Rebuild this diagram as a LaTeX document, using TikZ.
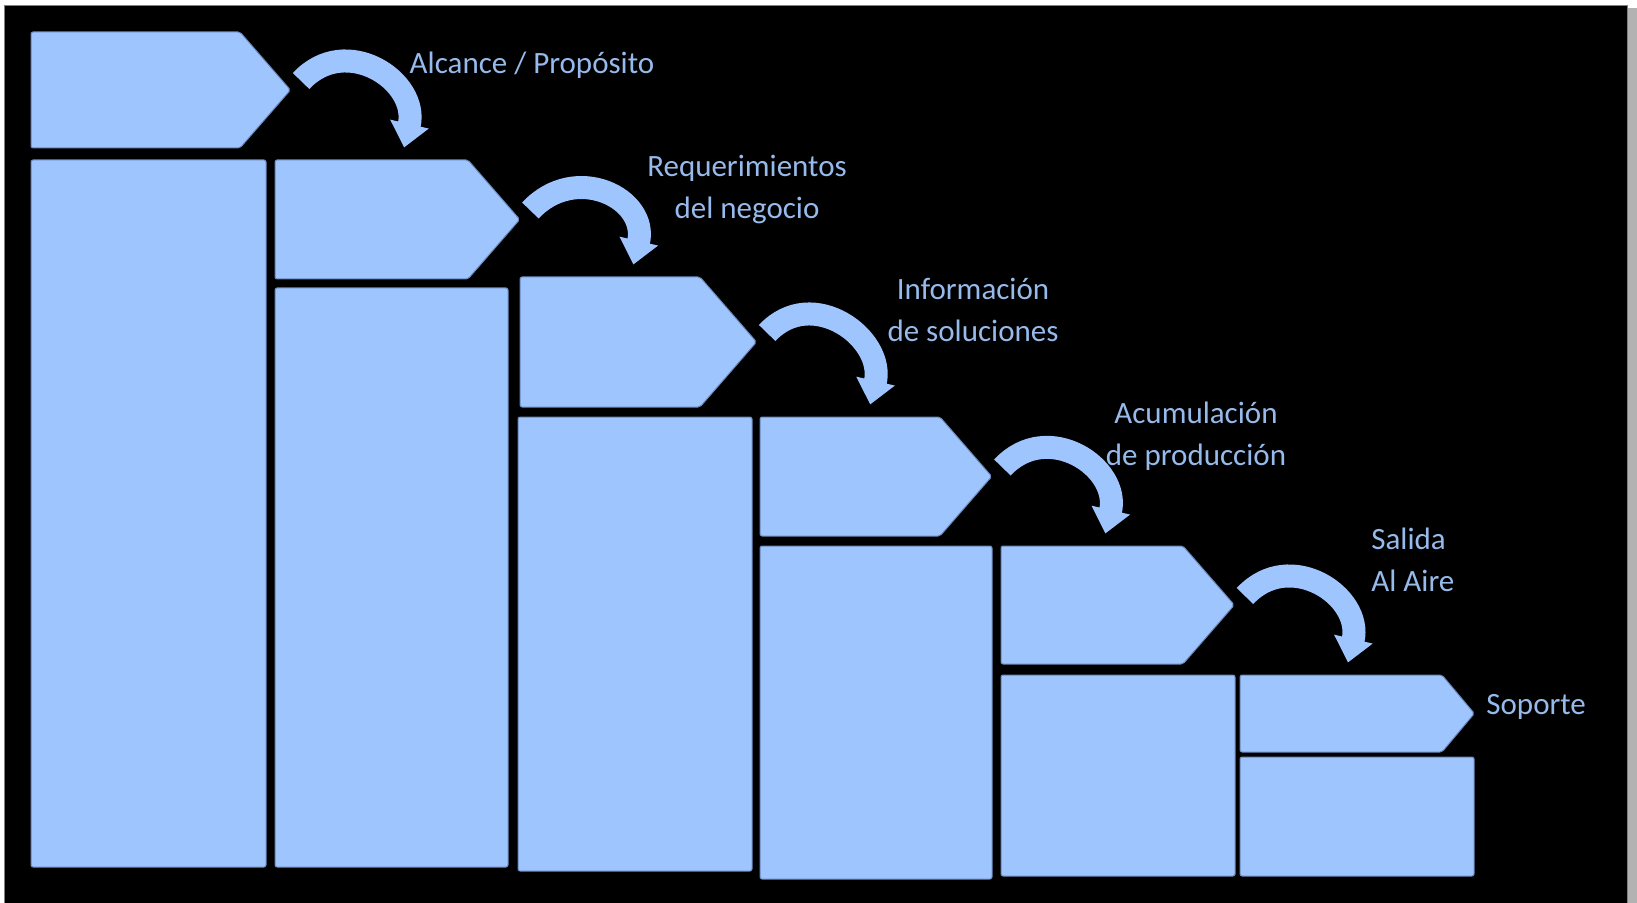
\documentclass[tikz,border=0pt]{standalone}
\usepackage{fontspec}
\setmainfont{Carlito}
\usetikzlibrary{positioning,fit,shapes.symbols,calc,arrows.meta}
\definecolor{stepblue}{RGB}{159,197,255}
\definecolor{stepedge}{RGB}{105,135,185}
\definecolor{labelblue}{RGB}{150,186,235}

\begin{document}
\begin{tikzpicture}[x=0.5pt,y=-0.5pt,
  block/.style={fill=stepblue,draw=stepedge,line width=0.5pt,inner sep=0pt,rounded corners=1pt},
  phase/.style={block,signal,signal to=east,signal pointer angle=98},
  turn/.style={stepblue,line width=11.5pt,-{Triangle[width=19pt,length=12pt]}},
  caption/.style={labelblue,font=\fontsize{15.5pt}{21pt}\selectfont,inner sep=0pt}
]
\useasboundingbox (0,0) rectangle (1637,903);
% the frame
\fill[white] (0,0) rectangle (1637,903);
\fill[black!30] (8,8) rectangle (1637,903);
\fill[black,draw=black!50] (4,5) rectangle (1627,903);

% the phases (body only, the point sticks out)
\node[phase,fit={(31,32) (240,148)}] (p1) {};
\node[phase,fit={(275,160) (468,279)}] (p2) {};
\node[phase,fit={(520,277) (700,407)}] (p3) {};
\node[phase,fit={(760,417) (940,536)}] (p4) {};
\node[phase,fit={(1001,546) (1183,664)}] (p5) {};
\node[phase,signal pointer angle=100,fit={(1240,675) (1442,752)}] (p6) {};

% the blocks below
\node[block,fit={(31,160) (266,867)}] (b1) {};
\node[block,fit={(275,288) (508,867)}] (b2) {};
\node[block,fit={(518,417) (752,871)}] (b3) {};
\node[block,fit={(760,546) (992,879)}] (b4) {};
\node[block,fit={(1001,675) (1235,876)}] (b5) {};
\node[block,fit={(1240,757) (1474,876)}] (b6) {};

% the labels
\node[caption,anchor=base] (alcance) at (532,74) {Alcance / Propósito};
\node[caption,align=center] (requer) at (747,190) {Requerimientos\\del negocio};
\node[caption,align=center] (info) at (973,310) {Información\\de soluciones};
\node[caption,align=center] (acum) at (1196,436) {Acumulación\\de producción};
\node[caption,align=left,anchor=west] (salida) at (1371,560) {Salida\\Al Aire};
\node[caption,anchor=base west] (soporte) at (1486,714) {Soporte};

% the turns
\draw[turn] ($(p1.east)+(10,-9)$) to[out=47,in=77,out distance=33pt,in distance=34pt] ($(p1.east |- p2.north)+(113,-12)$);
\draw[turn] ($(p2.east)+(10,-9)$) to[out=47,in=77,out distance=33pt,in distance=34pt] ($(p2.east |- p3.north)+(113,-12)$);
\draw[turn] ($(p3.east)+(10,-9)$) to[out=47,in=77,out distance=33pt,in distance=34pt] ($(p3.east |- p4.north)+(113,-12)$);
\draw[turn] ($(p4.east)+(10,-9)$) to[out=47,in=77,out distance=33pt,in distance=34pt] ($(p4.east |- p5.north)+(113,-12)$);
\draw[turn] ($(p5.east)+(10,-9)$) to[out=47,in=77,out distance=33pt,in distance=34pt] ($(p5.east |- p6.north)+(113,-12)$);
\end{tikzpicture}
\end{document}
